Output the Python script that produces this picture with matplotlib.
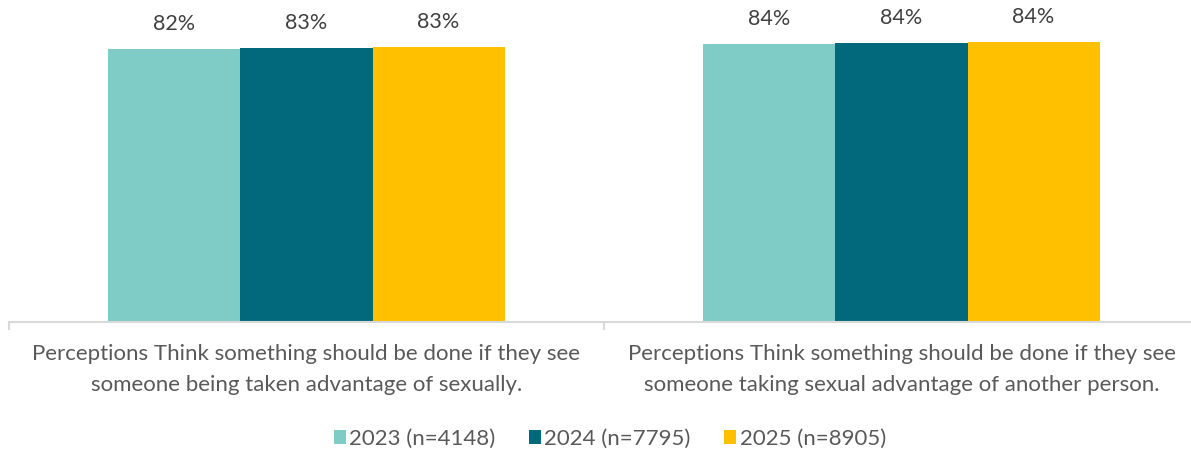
import matplotlib
matplotlib.use('Agg')
from matplotlib import pyplot as plt
from matplotlib.patches import Patch
import numpy as np

# Chart data
categories = [
    "Perceptions Think something should be done if they see\nsomeone being taken advantage of sexually.",
    "Perceptions Think something should be done if they see\nsomeone taking sexual advantage of another person.",
]
series_names = ["2023 (n=4148)", "2024 (n=7795)", "2025 (n=8905)"]
values_2023 = [82.2, 83.7]
values_2024 = [82.6, 84.0]
values_2025 = [82.9, 84.4]
series_values = [values_2023, values_2024, values_2025]
colors = ['#7ECCC5', '#02687B', '#FFC000']

plt.rcParams['font.family'] = ['Lato', 'DejaVu Sans']

fig = plt.figure(figsize=(11.91, 4.49), dpi=100)
ax = fig.add_axes([9 / 1191, 127 / 449, 1190 / 1191, 332 / 449])

x = np.arange(len(categories))
bar_w = 0.222
for i, (name, vals) in enumerate(zip(series_names, series_values)):
    pos = x + (i - 1) * bar_w
    bars = ax.bar(pos, vals, width=bar_w, color=colors[i], label=name)
    for b, v in zip(bars, vals):
        ax.annotate(f"{v:.0f}%", (b.get_x() + b.get_width() / 2, v),
                    xytext=(0, 18), textcoords='offset points',
                    ha='center', va='center', fontsize=15.5, color='#404040')

ax.set_xlim(-0.5, 1.5)
ax.set_ylim(0, 100)
for s in ['top', 'left', 'right']:
    ax.spines[s].set_visible(False)
ax.spines['bottom'].set_color('#D9D9D9')
ax.spines['bottom'].set_linewidth(1.5)
ax.set_yticks([])
ax.set_xticks(x)
ax.set_xticklabels(categories, fontsize=16, color='#595959', linespacing=1.65)
ax.tick_params(axis='x', which='major', length=0, pad=16)
ax.set_xticks([-0.5, 0.5, 1.5], minor=True)
ax.tick_params(axis='x', which='minor', length=6, width=1.5, color='#D9D9D9')

handles = [Patch(facecolor=c, edgecolor='none') for c in colors]
fig.legend(handles, series_names, loc='center', bbox_to_anchor=(0.512, 10 / 449),
           ncol=3, frameon=False, fontsize=16, handlelength=0.55, handleheight=0.55,
           handletextpad=0.15, columnspacing=1.5, labelcolor='#595959')

fig.savefig('out.png', dpi=100)
